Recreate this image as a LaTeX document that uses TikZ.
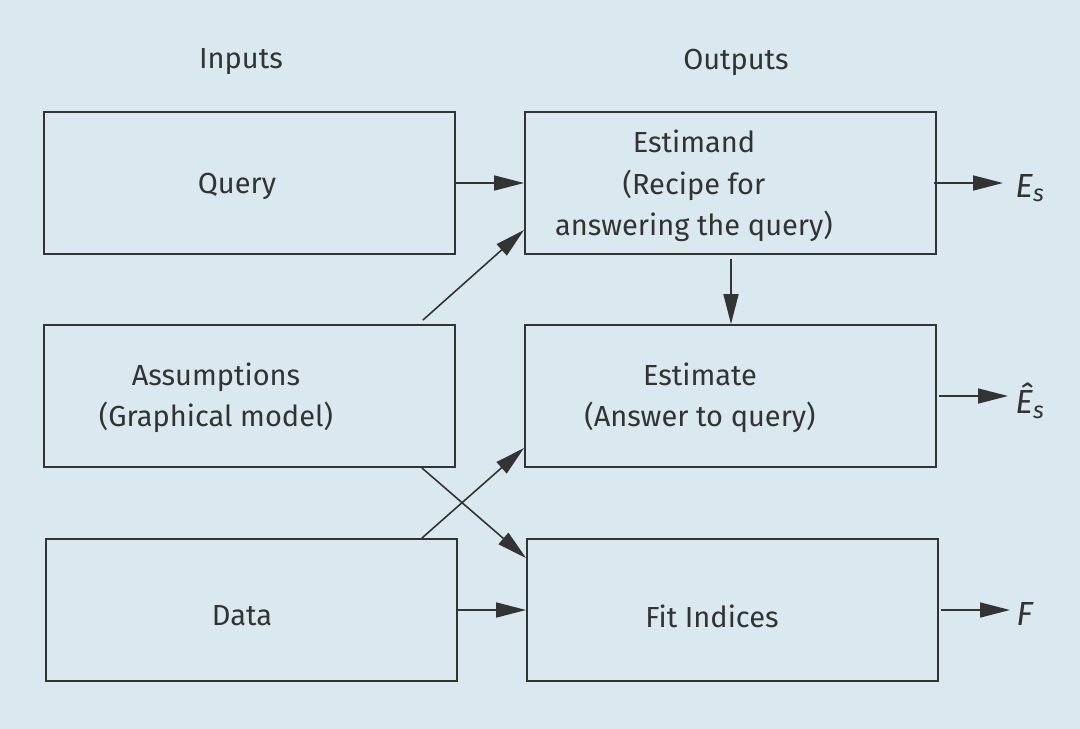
\documentclass[tikz,border=0pt]{standalone}
\usepackage{fontspec}
\setmainfont{Fira Sans}
\usetikzlibrary{arrows.meta,calc}
\definecolor{bg}{RGB}{218,233,240}
\definecolor{ink}{RGB}{51,51,51}
\begin{document}
\begin{tikzpicture}[x=0.02cm,y=-0.02cm,
  box/.style={draw=ink,line width=1.1pt,minimum width=8.22cm,minimum height=2.84cm,inner sep=0pt},
  lbl/.style={text=ink,font=\fontsize{16.5}{23.5}\selectfont,align=center,inner sep=0pt},
  conn/.style={draw=ink,line width=0.9pt,-{Triangle[length=0.6cm,width=0.3cm]}},
  outl/.style={text=ink,font=\fontsize{19}{22}\selectfont,inner sep=0pt}]
\useasboundingbox (0,0) rectangle (1080,728);
\fill[bg] (-2,-2) rectangle (1082,730);
% headers
\node[lbl] (hin) at (241,62) {Inputs};
\node[lbl] (hout) at (736,62) {Outputs};
% boxes
\node[box] (query) at (249.5,183) {};
\node[box] (assum) at (249.5,396) {};
\node[box] (data) at (251.5,610) {};
\node[box] (estimand) at (730.5,183) {};
\node[box] (estimate) at (730.5,396) {};
\node[box] (fit) at (732.5,610) {};
% labels
\node[lbl] (tquery) at (237,186) {Query};
\node[lbl] (tassum) at (216,398) {Assumptions\\(Graphical model)};
\node[lbl] (tdata) at (242,616) {Data};
\node[lbl] (testimand) at (694,186) {Estimand\\(Recipe for\\answering the query)};
\node[lbl] (testimate) at (700,398) {Estimate\\(Answer to query)};
\node[lbl] (tfit) at (712,616) {Fit Indices};
% output labels
\node[outl,anchor=west] (es) at (1015,188) {\textit{E}\textsubscript{\textit{s}}};
\node[outl,anchor=west] (eh) at (1015,401) {\textit{\^{E}}\textsubscript{\textit{s}}};
\node[outl,anchor=west] (ff) at (1016,614) {\textit{F}};
% connectors
\draw[conn] (query.east) -- (estimand.west);
\draw[conn] ($(assum.north east)+(-33,-4)$) -- ($(estimand.south west)+(0,-25)$);
\draw[conn] ($(estimand.south)+(0.5,4)$) -- ($(estimate.north)+(0.5,0)$);
\draw[conn] ($(assum.south east)+(-34,0)$) -- ($(fit.north west)+(0,20)$);
\draw[conn] ($(data.north east)+(-36,0)$) -- ($(estimate.south west)+(0,-20)$);
\draw[conn] (data.east) -- (fit.west);
\draw[conn] ($(estimand.east)+(-3,0)$) -- ($(es.west)+(-12,-5)$);
\draw[conn] ($(estimate.east)+(2,0)$) -- ($(eh.west)+(-7,-5)$);
\draw[conn] ($(fit.east)+(2,0)$) -- ($(ff.west)+(-6,-4)$);
\end{tikzpicture}
\end{document}
